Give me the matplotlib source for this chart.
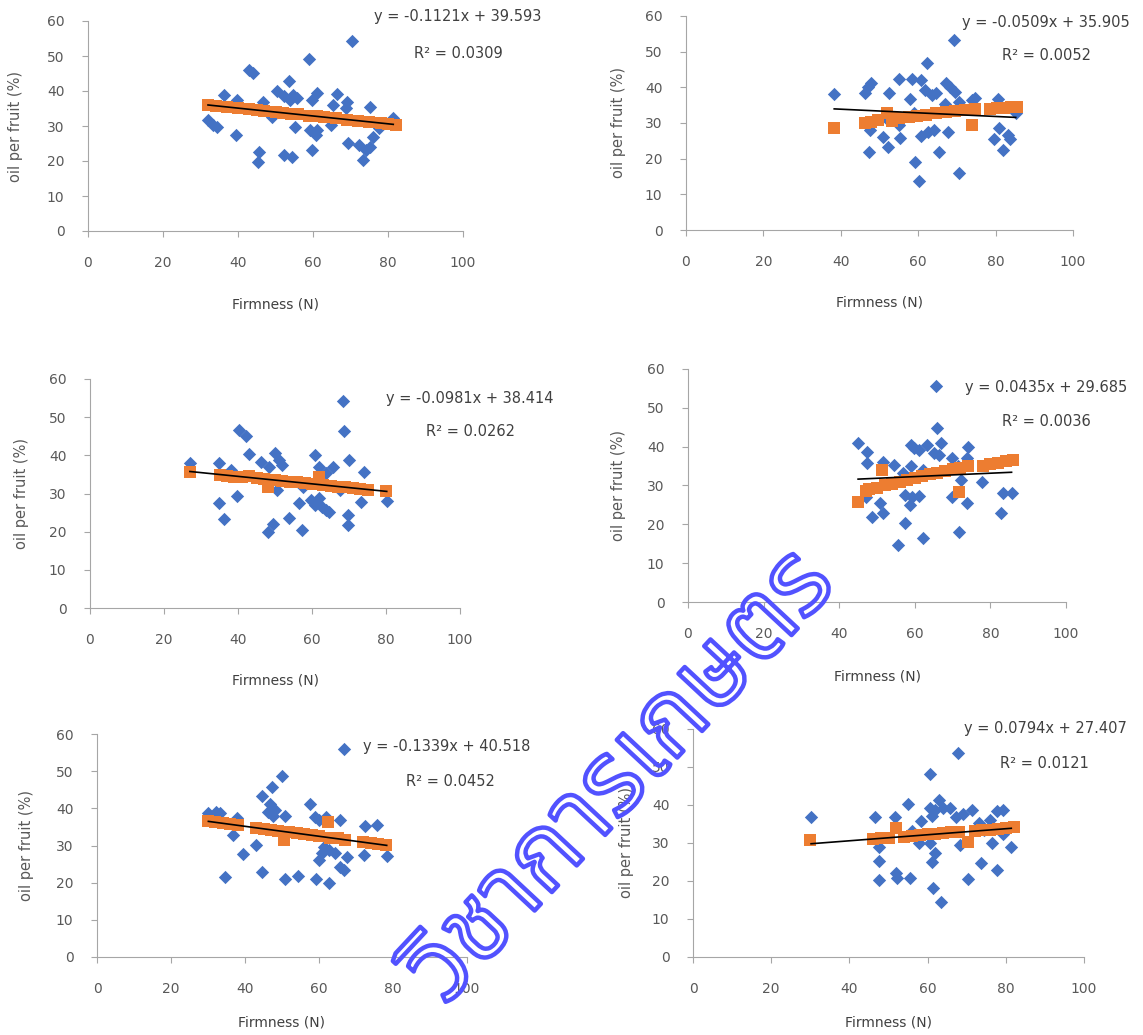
import matplotlib.pyplot as plt
import matplotlib.patheffects as pe
import numpy as np

# panel 1
x1_blue = [70.3, 58.8, 42.9, 44.1, 53.5, 36.3, 39.7, 46.7, 50.4, 52.3, 53.8, 55.7, 54.7, 61.0, 59.6,
           65.4, 66.4, 69.1, 68.8, 75.3, 81.4, 32.0, 33.4, 34.4, 39.4, 45.5, 45.3, 52.3, 54.3, 55.2,
           59.1, 59.6, 61.0, 60.7, 64.9, 69.3, 72.2, 73.2, 74.1, 76.1, 75.1, 77.5, 49.1]
y1_blue = [54.3, 49.2, 45.9, 45.2, 42.8, 38.8, 37.5, 37.0, 39.9, 38.5, 37.5, 38.0, 38.9, 39.4, 37.5,
           36.1, 39.1, 37.0, 35.1, 35.3, 32.2, 31.8, 30.3, 29.6, 27.5, 22.7, 19.8, 21.7, 21.2, 29.6,
           28.9, 23.2, 28.9, 27.5, 30.3, 25.1, 24.6, 20.3, 23.2, 26.8, 24.1, 29.4, 32.7]
x1_orange = [32, 34, 37, 40, 43, 45, 47, 50, 52, 54, 56, 59, 61, 63, 66, 69, 72, 75, 78, 80, 82]
y1_orange = [36.0, 35.8, 35.4, 35.1, 34.8, 34.5, 34.3, 34.0, 33.8, 33.5, 33.3, 33.0, 32.8, 32.5,
             32.2, 31.8, 31.5, 31.2, 30.8, 30.6, 30.4]
fit1 = (-0.1121, 39.593, 0.0309)

# panel 2
x2_blue = [69.3, 62.4, 55.0, 58.4, 60.6, 47.7, 46.9, 46.3, 38.3, 52.5, 57.9, 61.7, 63.6, 64.5, 67.3,
           68.2, 69.4, 66.8, 70.6, 73.8, 74.6, 80.6, 85.2, 47.5, 50.9, 55.3, 47.2, 52.3, 60.6, 62.6,
           64.0, 67.8, 65.4, 59.1, 60.1, 70.6, 79.7, 80.8, 82.0, 83.1, 83.8, 52.3, 55.1, 58.9]
y2_blue = [53.2, 46.9, 42.2, 42.2, 42.0, 41.1, 40.0, 38.3, 38.0, 38.4, 36.8, 39.3, 37.9, 38.3, 41.1,
           40.0, 38.8, 35.3, 36.0, 36.5, 36.9, 36.7, 32.7, 27.9, 26.2, 25.8, 22.0, 23.4, 26.4, 27.6,
           28.1, 27.6, 22.0, 19.1, 13.7, 16.0, 25.5, 28.6, 22.5, 26.7, 25.5, 30.9, 29.5, 32.7]
x2_orange = [38.3, 46.3, 47.7, 49.5, 51.9, 53.3, 55.1, 57.5, 59.8, 62.1, 64.5, 67.3, 69.6, 72.0,
             73.8, 74.8, 78.5, 80.4, 82.2, 84.1, 85.5]
y2_orange = [28.6, 30.1, 30.4, 30.9, 32.7, 30.7, 31.3, 31.6, 32.0, 32.3, 32.7, 33.2, 33.5, 33.7,
             29.5, 33.9, 33.9, 34.1, 34.1, 34.4, 34.6]
fit2 = (-0.0509, 35.905, 0.0052)

# panel 3
x3_blue = [68.4, 68.6, 40.2, 42.2, 42.9, 46.3, 50.0, 51.0, 52.0, 48.5, 34.8, 27.0, 38.2, 60.8, 61.8,
           63.7, 65.7, 70.1, 74.0, 80.2, 34.8, 36.3, 39.7, 48.0, 49.5, 50.5, 53.9, 56.4, 57.4, 57.6,
           59.8, 60.8, 61.8, 62.7, 63.7, 64.7, 67.6, 69.6, 69.6, 73.3]
y3_blue = [54.2, 46.4, 46.6, 45.0, 40.3, 38.3, 40.5, 38.8, 37.4, 36.9, 38.1, 37.9, 36.1, 40.1, 37.0,
           35.3, 37.0, 38.8, 35.7, 28.1, 27.4, 23.4, 29.3, 19.9, 22.1, 30.9, 23.7, 27.4, 20.4, 31.8,
           28.3, 26.9, 28.7, 26.5, 25.6, 25.2, 30.9, 24.3, 21.7, 27.8]
x3_orange = [27, 35, 37, 39, 41, 43, 45, 47, 48, 50, 52, 54, 56, 58, 60, 62, 63, 65, 67, 69, 71,
             73, 75, 80]
y3_orange = [35.7, 34.8, 34.6, 34.4, 34.3, 34.5, 34.0, 33.8, 31.8, 33.5, 33.3, 33.1, 32.9, 32.7,
             32.5, 34.4, 32.2, 32.0, 31.8, 31.6, 31.4, 31.2, 31.0, 30.6]
fit3 = (-0.0981, 38.414, 0.0262)

# panel 4
x4_blue = [65.6, 65.8, 45.0, 47.4, 47.4, 51.7, 54.5, 58.9, 59.8, 61.2, 63.2, 65.1, 66.5, 67.0, 58.9,
           56.9, 62.2, 69.9, 71.3, 73.7, 74.2, 77.9, 72.2, 69.9, 73.7, 83.3, 85.6, 82.8, 71.8, 50.7,
           51.7, 48.8, 57.4, 59.3, 61.2, 58.6, 57.4, 55.5, 62.2, 47.0]
y4_blue = [55.5, 44.8, 41.0, 38.7, 35.9, 36.1, 35.3, 40.4, 39.6, 39.2, 40.4, 38.3, 37.9, 40.9, 35.0,
           33.1, 34.0, 37.0, 34.9, 37.0, 39.8, 31.0, 31.4, 27.1, 25.4, 28.0, 28.0, 23.0, 18.1, 25.6,
           23.0, 21.9, 27.5, 27.1, 27.3, 25.0, 20.4, 14.6, 16.4, 27.1]
x4_orange = [45, 47, 48, 50, 51.2, 52, 54, 56, 58, 60, 62, 64, 66, 68, 70, 71.8, 72, 74, 78, 80,
             82, 84, 86]
y4_orange = [25.8, 28.5, 29.0, 29.4, 34.0, 30.0, 30.5, 31.0, 31.5, 32.0, 32.4, 32.9, 33.3, 33.8,
             34.2, 28.2, 34.6, 35.0, 35.1, 35.5, 35.9, 36.3, 36.6]
fit4 = (0.0435, 29.685, 0.0036)

# panel 5
x5_blue = [66.8, 50.1, 47.2, 44.5, 46.7, 48.2, 46.2, 47.7, 50.9, 57.7, 58.9, 59.9, 61.9, 65.6, 72.4,
           75.6, 30.1, 32.1, 33.3, 37.9, 36.7, 39.4, 43.1, 34.5, 44.5, 50.9, 54.2, 59.1, 62.8, 60.0,
           61.4, 60.8, 62.8, 64.3, 65.8, 66.8, 67.7, 72.2, 78.3]
y5_blue = [55.9, 48.6, 45.7, 43.3, 41.2, 39.6, 39.1, 37.9, 37.9, 41.2, 37.6, 36.9, 37.6, 36.9, 35.3,
           35.5, 38.7, 39.1, 38.8, 37.3, 32.8, 27.6, 30.1, 21.4, 22.9, 21.0, 21.9, 21.0, 19.8, 26.1,
           29.7, 27.9, 28.8, 27.9, 24.3, 23.4, 27.0, 27.4, 27.2]
x5_orange = [30, 32, 34, 36, 38, 43, 45, 47, 49, 50.6, 52, 54, 56, 58, 60, 62.4, 63, 65, 67, 72,
             74, 76, 78]
y5_orange = [36.5, 36.2, 36.0, 35.7, 35.4, 34.8, 34.5, 34.2, 34.0, 31.5, 33.6, 33.3, 33.0, 32.8,
             32.5, 36.4, 32.1, 31.9, 31.6, 30.9, 30.6, 30.3, 30.1]
fit5 = (-0.1339, 40.518, 0.0452)

# panel 6
x6_blue = [67.8, 60.7, 55.1, 63.0, 63.9, 65.8, 62.0, 60.7, 61.1, 67.2, 69.0, 71.4, 77.7, 79.3, 58.4,
           56.0, 51.6, 46.5, 30.2, 73.2, 76.0, 47.6, 47.6, 47.6, 51.8, 52.3, 55.5, 57.9, 60.7, 62.0,
           61.1, 61.4, 63.4, 68.4, 70.3, 73.7, 76.5, 77.7, 81.4, 79.3, 74.5]
y6_blue = [53.7, 48.2, 40.3, 41.3, 39.1, 39.1, 38.7, 39.1, 37.1, 36.8, 37.7, 38.7, 38.3, 38.7, 35.7,
           33.1, 36.9, 36.9, 36.9, 35.2, 36.1, 29.0, 25.3, 20.2, 22.2, 20.9, 20.7, 29.9, 29.9, 27.3,
           25.1, 18.2, 14.4, 29.5, 20.4, 24.8, 29.9, 22.9, 29.0, 32.5, 33.4]
x6_orange = [29.8, 46, 48, 50, 51.8, 54, 56, 58, 60, 62, 64, 66, 68, 70.4, 72, 74, 76, 78, 80, 82]
y6_orange = [30.8, 31.0, 31.2, 31.4, 33.9, 31.7, 31.9, 32.0, 32.3, 32.5, 32.7, 32.8, 33.0, 30.3,
             33.2, 33.3, 33.5, 33.7, 33.9, 34.1]
fit6 = (0.0794, 27.407, 0.0121)

W, H = 1143, 1035
fig = plt.figure(figsize=(W / 100, H / 100), dpi=100)

BLUE = '#4472C4'
ORANGE = '#ED7D31'


def add_panel(box, xl_off, yl_off, eq_xy, r2_xy, xb, yb, xo, yo, fit):
    left, right, top, bottom = box
    wpx, hpx = right - left, bottom - top
    ax = fig.add_axes([left / W, 1 - bottom / H, wpx / W, hpx / H])
    ax.scatter(xb, yb, marker='D', s=46, color=BLUE, linewidths=0, zorder=2, clip_on=False)
    ax.scatter(xo, yo, marker='s', s=72, color=ORANGE, linewidths=0, zorder=3, clip_on=False)
    slope, icept, r2 = fit
    xs = np.array([min(xb), max(xb)])
    ax.plot(xs, slope * xs + icept, color='black', lw=1.2, zorder=4)

    ax.set_xlim(0, 100)
    ax.set_ylim(0, 60)
    ax.set_xticks(range(0, 101, 20))
    ax.set_yticks(range(0, 61, 10))
    for s in ['top', 'right']:
        ax.spines[s].set_visible(False)
    for s in ['left', 'bottom']:
        ax.spines[s].set_color('#a6a6a6')
    ax.tick_params(colors='#a6a6a6', labelcolor='#595959', labelsize=10, length=4)
    ax.tick_params(axis='x', pad=14)
    ax.tick_params(axis='y', pad=13)

    ax.set_xlabel('Firmness (N)', fontsize=10, color='#404040', va='center')
    ax.xaxis.set_label_coords(0.5, -xl_off / hpx)
    ax.set_ylabel('oil per fruit (%)', fontsize=10.5, color='#595959', va='center')
    ax.yaxis.set_label_coords(-yl_off / wpx, 0.5)

    fig.text(eq_xy[0] / W, 1 - eq_xy[1] / H, f'y = {slope:.4f}x + {icept:.3f}',
             ha='center', va='center', fontsize=10.5, color='#404040')
    fig.text(r2_xy[0] / W, 1 - r2_xy[1] / H, f'R² = {r2:.4f}',
             ha='center', va='center', fontsize=10.5, color='#404040')
    return ax


add_panel((88, 463, 21, 231), 74, 72, (458, 17), (458, 53), x1_blue, y1_blue, x1_orange, y1_orange, fit1)
add_panel((686, 1073, 16, 230), 72, 67, (1046, 22), (1046, 56), x2_blue, y2_blue, x2_orange, y2_orange, fit2)
add_panel((90, 460, 379, 608), 72, 68, (470, 398), (470, 432), x3_blue, y3_blue, x3_orange, y3_orange, fit3)
add_panel((688, 1066, 369, 602), 75, 69, (1046, 387), (1046, 421), x4_blue, y4_blue, x4_orange, y4_orange, fit4)
add_panel((97, 467, 734, 957), 65, 70, (447, 747), (450, 782), x5_blue, y5_blue, x5_orange, y5_orange, fit5)
add_panel((693, 1084, 729, 957), 65, 67, (1045, 729), (1044, 764), x6_blue, y6_blue, x6_orange, y6_orange, fit6)

# outlined watermark across the lower half
fig.text(622 / W, 1 - 778 / H, 'วิชาการเกษตร', rotation=47, rotation_mode='anchor',
         ha='center', va='center', fontsize=74, color='none',
         family=['Noto Sans Thai', 'Loma', 'Garuda', 'Waree', 'Noto Sans', 'DejaVu Sans'],
         path_effects=[pe.Stroke(linewidth=3.2, foreground='#5252ff')], zorder=10)

fig.savefig('out.png', dpi=100)
